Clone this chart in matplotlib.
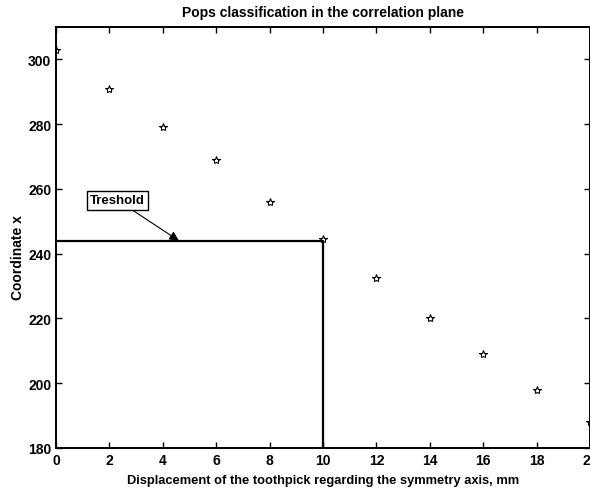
import matplotlib.pyplot as plt

# Displacement (mm) and coordinate x
displacement = [0, 2, 4, 6, 8, 10, 12, 14, 16, 18, 20]
coordinate_x = [303, 291, 279, 269, 256, 244.5, 232.5, 220, 209, 198, 188]

# threshold region
thr_x = [0, 10, 10]
thr_y = [244, 244, 180]

x_ticks = [0, 2, 4, 6, 8, 10, 12, 14, 16, 18, 20]
y_ticks = [180, 200, 220, 240, 260, 280, 300]

plt.rcParams['font.family'] = 'Liberation Sans'
plt.rcParams['font.weight'] = 'bold'

fig = plt.figure(figsize=(5.9, 5.02), dpi=100)
ax = fig.add_axes([0.095, 0.106, 0.905, 0.838])

ax.plot(displacement, coordinate_x, linestyle='none', marker='*', markersize=6,
        markerfacecolor='none', markeredgecolor='black', markeredgewidth=0.8)

# threshold box
ax.plot(thr_x, thr_y, color='black', linewidth=1.6)

ax.annotate('Treshold', xy=(4.6, 244), xytext=(2.3, 256.5),
            ha='center', va='center', fontsize=9.5, fontweight='bold',
            bbox=dict(boxstyle='square,pad=0.25', fc='white', ec='black', lw=1),
            arrowprops=dict(arrowstyle='-|>', color='black', lw=0.8,
                            mutation_scale=14, shrinkA=0, shrinkB=0))

ax.set_xlim(0, 20)
ax.set_ylim(180, 310)
ax.set_xticks(x_ticks)
ax.set_yticks(y_ticks)
ax.tick_params(direction='in', top=True, right=True, length=4, labelsize=10, width=1)
for sp in ax.spines.values():
    sp.set_linewidth(1.4)

ax.set_title('Pops classification in the correlation plane', fontsize=10,
             fontweight='bold', pad=8)
ax.set_xlabel('Displacement of the toothpick regarding the symmetry axis, mm',
              fontsize=9.3, fontweight='bold', labelpad=5)
ax.set_ylabel('Coordinate x', fontsize=10, fontweight='bold', labelpad=4)
ax.yaxis.set_label_coords(-0.058, 0.455)

fig.savefig('out.png', dpi=100)
